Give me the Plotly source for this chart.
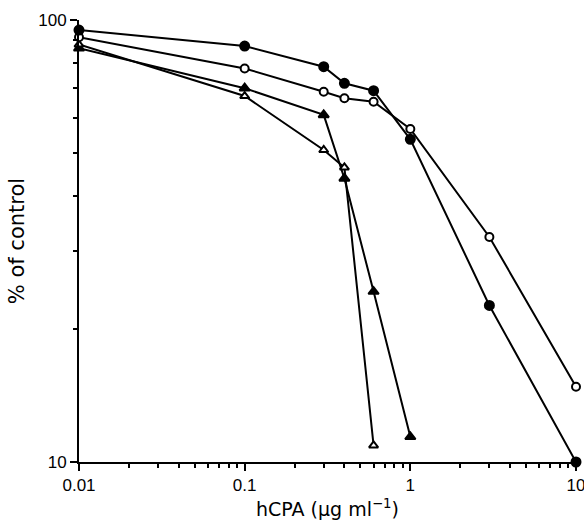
import plotly.graph_objects as go

# Data
x_filled_circle = [0.01, 0.1, 0.3, 0.4, 0.6, 1, 3, 10]
y_filled_circle = [94.9, 87.3, 78.4, 71.9, 69.2, 53.7, 22.6, 10]

x_open_circle = [0.01, 0.1, 0.3, 0.4, 0.6, 1, 3, 10]
y_open_circle = [91.4, 77.7, 68.8, 66.5, 65.3, 56.7, 32.3, 14.8]

x_filled_tri = [0.01, 0.1, 0.3, 0.4, 0.6, 1]
y_filled_tri = [86.3, 70.1, 61.0, 43.8, 24.3, 11.4]

x_open_tri = [0.01, 0.1, 0.3, 0.4, 0.6]
y_open_tri = [88.0, 67.3, 50.8, 46.4, 10.9]

x_tickvals = [0.01, 0.1, 1, 10]
x_ticktext = ["0.01", "0.1", "1", "10"]
y_tickvals = [10, 100]
y_ticktext = ["10", "100"]

FONT = "Liberation Sans, Arial, Helvetica, sans-serif"
TFONT = "DejaVu Sans, Liberation Sans, sans-serif"
LINE = dict(color="black", width=2)

fig = go.Figure()

def add(xs, ys, symbol, size, fill):
    fig.add_trace(go.Scatter(
        x=xs, y=ys, mode="lines+markers",
        line=LINE,
        marker=dict(symbol=symbol, size=size, color=fill,
                    line=dict(color="black", width=2)),
        cliponaxis=False, showlegend=False,
    ))

add(x_filled_tri, y_filled_tri, "triangle-up", 9, "black")
add(x_open_tri, y_open_tri, "triangle-up", 8, "white")
add(x_open_circle, y_open_circle, "circle", 8, "white")
add(x_filled_circle, y_filled_circle, "circle", 9, "black")

axis_common = dict(
    showline=True, linecolor="black", linewidth=2,
    showgrid=False, zeroline=False, automargin=False,
    ticks="outside", ticklen=7, tickwidth=2, tickcolor="black",
    tickfont=dict(family=FONT, size=17, color="black"),
    tickmode="array", ticklabeloverflow="allow",
)

fig.update_xaxes(
    type="log", range=[-2, 1], tickvals=x_tickvals, ticktext=x_ticktext,
    minor=dict(dtick="D1", ticks="outside", ticklen=4, tickwidth=2, tickcolor="black", showgrid=False),
    title=dict(text="hCPA (μg ml<sup>−1</sup>)", font=dict(family=TFONT, size=19, color="black"), standoff=8),
    **axis_common,
)
fig.update_yaxes(
    type="log", range=[1, 2], tickvals=y_tickvals, ticktext=y_ticktext,
    minor=dict(dtick="D1", ticks="outside", ticklen=4, tickwidth=2, tickcolor="black", showgrid=False),
    title=dict(text="% of control", font=dict(family=TFONT, size=21, color="black"), standoff=8),
    **axis_common,
)

fig.update_layout(
    width=584, height=520,
    margin=dict(l=79, r=8, t=20, b=58),
    paper_bgcolor="white", plot_bgcolor="white",
    font=dict(family=FONT, color="black"),
)

fig.write_html("out.html",
               config={"displayModeBar": False},
               post_script="document.body.style.margin='0';document.body.style.overflow='hidden';")
